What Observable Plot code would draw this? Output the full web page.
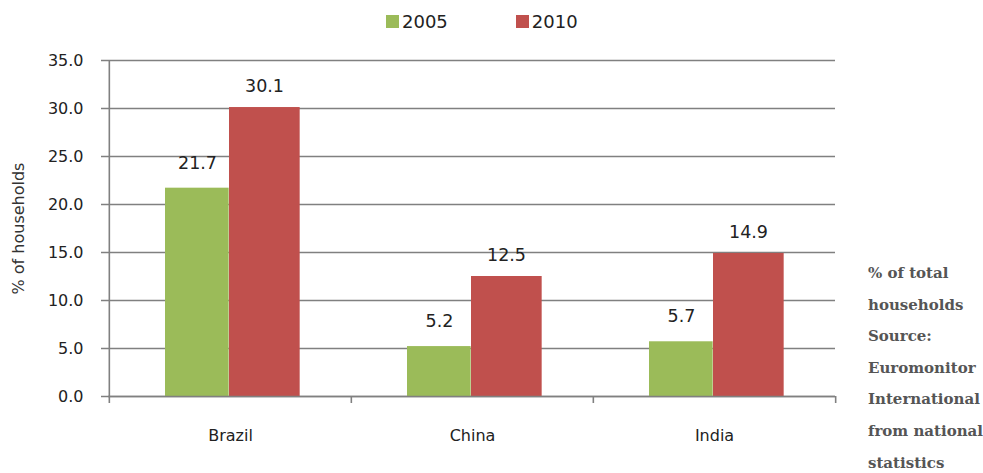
<!DOCTYPE html>
<html><head><meta charset="utf-8">
<script src="https://cdn.jsdelivr.net/npm/d3@7"></script>
<script src="https://cdn.jsdelivr.net/npm/@observablehq/plot@0.6"></script>
<style>
body{margin:0;background:#fff;}
#wrap{position:relative;width:983px;height:473px;overflow:hidden;font-family:"DejaVu Sans",sans-serif;background:#fff;}
#chart{position:absolute;left:0;top:40px;}
#legend{position:absolute;left:386px;top:5px;}
#legend .lg-swatch{margin-right:68px !important;font-size:18px !important;color:#222;}
#legend .lg-swatch svg{margin-right:3px !important;}
#caption{position:absolute;left:868px;top:258px;font-family:"DejaVu Serif",serif;font-weight:bold;font-size:15px;line-height:31.6px;color:#555;white-space:nowrap;}
</style></head><body>
<div id="wrap"><div id="legend"></div><div id="chart"></div><div id="caption"></div></div>
<script>
const countries = ["Brazil", "China", "India"];
const years = ["2005", "2010"];
const values2005 = [21.7, 5.2, 5.7];
const values2010 = [30.1, 12.5, 14.9];
const yTicks = [0, 5, 10, 15, 20, 25, 30, 35];
const yLabel = "% of households";
const captionLines = ["% of total", "households", "Source:", "Euromonitor", "International", "from national", "statistics"];
const colors = ["#9BBB59", "#C0504D"];

const d2005 = countries.map((c, i) => ({country: c, year: years[0], value: values2005[i]}));
const d2010 = countries.map((c, i) => ({country: c, year: years[1], value: values2010[i]}));

const W = 860, H = 416, ML = 108, MR = 25, MT = 20, MB = 60;
const band = (W - ML - MR) / countries.length;
const axisColor = "#808080";
const textColor = "#222";

const chart = Plot.plot({
  width: W, height: H,
  marginLeft: ML, marginRight: MR, marginTop: MT, marginBottom: MB,
  style: {fontFamily: "DejaVu Sans, sans-serif", fontSize: "16px", color: textColor, background: "transparent"},
  x: {domain: countries, padding: 0, label: null, tickSize: 0, tickPadding: 33},
  y: {domain: [0, 35], ticks: yTicks, tickFormat: d3.format(".1f"), label: null, tickSize: 0, tickPadding: 25},
  color: {domain: years, range: colors},
  marks: [
    Plot.ruleY(yTicks, {stroke: axisColor, strokeWidth: 1.6, insetLeft: -7}),
    Plot.barY(d2005, {x: "country", y: "value", fill: colors[0], insetLeft: 56, insetRight: band - 120}),
    Plot.barY(d2010, {x: "country", y: "value", fill: colors[1], insetLeft: 120, insetRight: band - 191}),
    Plot.ruleX(countries, {x: d => d, dx: -band / 2, y1: 0, y2: 0, insetBottom: -7, stroke: axisColor, strokeWidth: 1.6}),
    Plot.ruleX(countries.slice(-1), {x: d => d, dx: band / 2, y1: 0, y2: 0, insetBottom: -7, stroke: axisColor, strokeWidth: 1.6}),
    Plot.ruleX(countries.slice(0, 1), {x: d => d, dx: -band / 2, y1: 0, y2: 35, stroke: axisColor, strokeWidth: 1.6}),
    Plot.ruleY([0], {stroke: axisColor, strokeWidth: 1.6}),
    Plot.text(d2005, {x: "country", y: "value", text: d => d3.format(".1f")(d.value), dx: -33, dy: -25, fill: textColor, fontSize: 17.5}),
    Plot.text(d2010, {x: "country", y: "value", text: d => d3.format(".1f")(d.value), dx: 34, dy: -21, fill: textColor, fontSize: 17.5}),
    Plot.text([yLabel], {frameAnchor: "left", textAnchor: "middle", rotate: -90, dx: -90, fill: "#333", fontSize: 16})
  ]
});
document.getElementById("chart").appendChild(chart);

const legend = Plot.legend({color: {domain: years, range: colors}, swatchSize: 13, className: "lg",
  style: {fontSize: "18px", fontFamily: "DejaVu Sans, sans-serif"}});
document.getElementById("legend").appendChild(legend);

document.getElementById("caption").innerHTML = captionLines.map(s => `<div>${s}</div>`).join("");
</script>
</body></html>
